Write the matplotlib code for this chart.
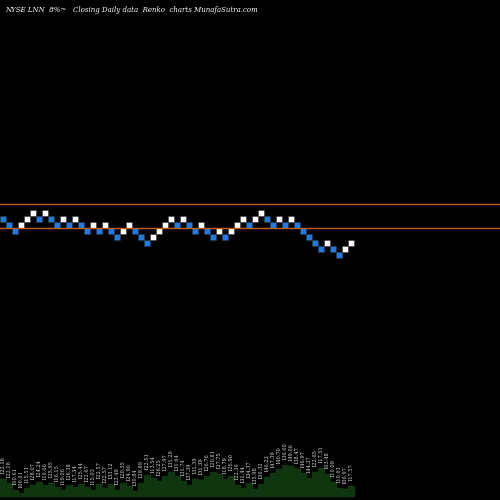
import matplotlib
matplotlib.use('Agg')
import matplotlib.pyplot as plt
from matplotlib.patches import Rectangle

# brick level per column (0 = highest), colour 1 = up (white), 0 = down (blue)
levels = [1, 2, 3, 2, 1, 0, 1, 0, 1, 2, 1, 2, 1, 2, 3, 2, 3, 2, 3, 4,
          3, 2, 3, 4, 5, 4, 3, 2, 1, 2, 1, 2, 3, 2, 3, 4, 3, 4, 3, 2,
          1, 2, 1, 0, 1, 2, 1, 2, 1, 2, 3, 4, 5, 6, 5, 6, 7, 6, 5]
ups = [0, 0, 0, 1, 1, 1, 0, 1, 0, 0, 1, 0, 1, 0, 0, 1, 0, 1, 0, 0,
       1, 1, 0, 0, 0, 1, 1, 1, 1, 0, 1, 0, 0, 1, 0, 0, 1, 0, 1, 1,
       1, 0, 1, 1, 0, 0, 1, 0, 1, 0, 0, 0, 0, 0, 1, 0, 0, 1, 1]
volumes = [17, 13, 6, 3, 8, 11, 14, 11, 13, 9, 6, 11, 9, 12, 9, 6, 12, 8, 12, 6,
           13, 10, 5, 13, 21, 18, 15, 20, 24, 20, 15, 11, 17, 16, 20, 24, 22, 17, 20, 11,
           8, 13, 7, 12, 19, 23, 27, 31, 30, 27, 23, 18, 24, 28, 22, 14, 8, 7, 10]
closes = ['122.18', '122.18', '100.61', '100.61', '115.51', '128.07', '124.24', '116.66',
          '125.95', '116.15', '119.06', '126.38', '117.34', '125.44', '122.67', '115.03',
          '122.57', '122.57', '133.12', '123.49', '120.35', '124.90', '130.84', '129.89',
          '122.51', '113.54', '126.25', '127.97', '131.29', '131.64', '131.74', '137.39',
          '131.39', '131.39', '126.76', '120.81', '127.75', '118.79', '126.90', '122.36',
          '131.44', '134.37', '135.98', '136.32', '146.23', '147.39', '140.70', '136.60',
          '149.06', '138.47', '146.97', '144.37', '122.65', '117.51', '103.48', '110.09',
          '110.01', '106.97', '117.57']

BW = 6
fig = plt.figure(figsize=(5, 5), dpi=100, facecolor='black')
ax = fig.add_axes([0, 0, 1, 1])
ax.set_facecolor('black')
ax.set_xlim(0, 500)
ax.set_ylim(500, 0)
ax.axis('off')

ax.axhline(204, color='#b8641a', lw=1)
ax.axhline(228, color='#b8641a', lw=1)

for i, (lv, up) in enumerate(zip(levels, ups)):
    ax.add_patch(Rectangle((i * BW, 210 + lv * BW), BW, BW,
                           facecolor='white' if up else '#1f7ae8',
                           edgecolor='#333333', lw=0.4))

xs = []
ys = []
for i, v in enumerate(volumes):
    xs += [i * BW, (i + 1) * BW]
    ys += [496 - v, 496 - v]
ax.fill_between(xs, ys, 496, color='#0f360f')

for i, (v, c) in enumerate(zip(volumes, closes)):
    ax.text(i * BW + 3, 494 - v - 3, c, color='#dddddd', fontsize=3.6,
            rotation=90, ha='center', va='bottom', family='DejaVu Serif')

fig.text(0.01, 0.988, 'NYSE LNN  8%~   Closing Daily data  Renko  charts MunafaSutra.com',
         color='white', fontsize=5, style='italic', family='DejaVu Serif',
         ha='left', va='top')

fig.savefig('out.png', dpi=100, facecolor='black')
